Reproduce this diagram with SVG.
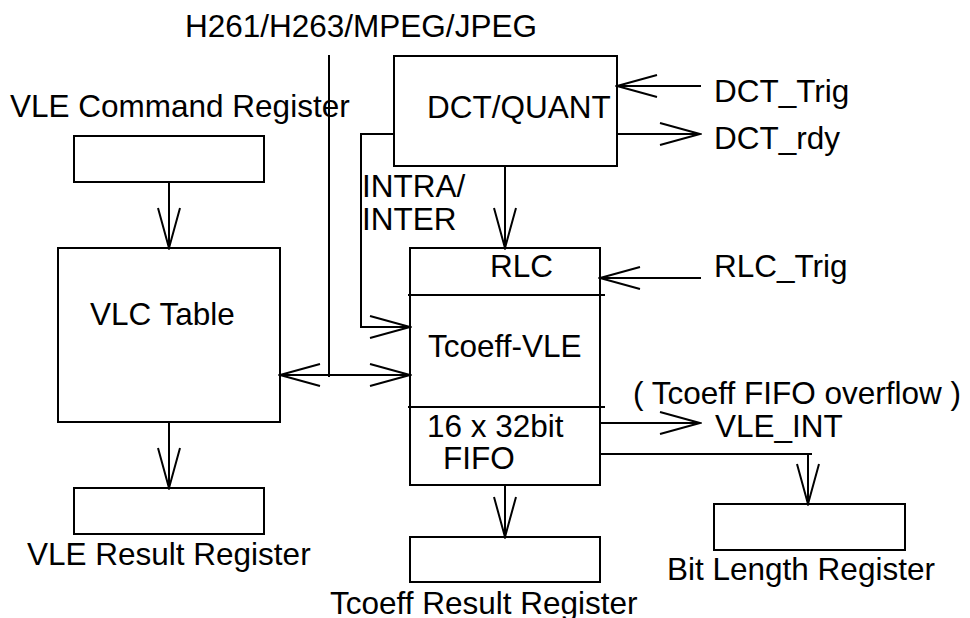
<svg xmlns="http://www.w3.org/2000/svg" width="970" height="618" viewBox="0 0 970 618">
<style>
.box{fill:none;stroke:#000;stroke-width:2}
.ln{fill:none;stroke:#000;stroke-width:2}
.t{font-family:"Liberation Sans",Arial,sans-serif;font-size:31.5px;fill:#000}
</style>
<defs>
<marker id="arr" viewBox="-42 -13 44 26" refX="0" refY="0" markerWidth="44" markerHeight="26" markerUnits="userSpaceOnUse" orient="auto">
<path d="M-40,-11 L0,0 L-40,11" fill="none" stroke="#000" stroke-width="2"/>
</marker>
</defs>
<rect width="970" height="618" fill="#fff"/>
<g id="connectors">
<path class="ln" d="M169,182 V248" marker-end="url(#arr)"/>
<path class="ln" d="M169,422 V488" marker-end="url(#arr)"/>
<path class="ln" d="M505,166 V248" marker-end="url(#arr)"/>
<path class="ln" d="M701,86 H617" marker-end="url(#arr)"/>
<path class="ln" d="M617,134 H700" marker-end="url(#arr)"/>
<path class="ln" d="M701,278 H600" marker-end="url(#arr)"/>
<path class="ln" d="M394,134 H361 V327 H410" marker-end="url(#arr)"/>
<path class="ln" d="M329,55 V377"/>
<path class="ln" d="M329,375 H280" marker-end="url(#arr)"/>
<path class="ln" d="M329,375 H410" marker-end="url(#arr)"/>
<path class="ln" d="M600,423 H700" marker-end="url(#arr)"/>
<path class="ln" d="M600,454 H812"/>
<path class="ln" d="M808,454 V504" marker-end="url(#arr)"/>
<path class="ln" d="M505,485 V537" marker-end="url(#arr)"/>
</g>
<g id="vle-command-register">
<rect class="box" x="74" y="136" width="190" height="46"/>
<text class="t" x="10" y="117">VLE Command Register</text>
</g>
<g id="vlc-table">
<rect class="box" x="58" y="248" width="222" height="174"/>
<text class="t" x="90" y="325">VLC Table</text>
</g>
<g id="vle-result-register">
<rect class="box" x="74" y="488" width="190" height="46"/>
<text class="t" x="27" y="565">VLE Result Register</text>
</g>
<g id="dct-quant">
<rect class="box" x="394" y="56" width="223" height="110"/>
<text class="t" x="427" y="118">DCT/QUANT</text>
</g>
<g id="tcoeff-vle">
<rect class="box" x="410" y="248" width="190" height="237"/>
<path class="ln" d="M408,295 H605 M408,407 H605"/>
<text class="t" x="490" y="277">RLC</text>
<text class="t" x="428" y="357">Tcoeff-VLE</text>
<text class="t" x="427" y="437">16 x 32bit</text>
<text class="t" x="443" y="469">FIFO</text>
</g>
<g id="tcoeff-result-register">
<rect class="box" x="410" y="537" width="190" height="45"/>
<text class="t" x="330" y="614">Tcoeff Result Register</text>
</g>
<g id="bit-length-register">
<rect class="box" x="714" y="504" width="191" height="46"/>
<text class="t" x="667" y="580">Bit Length Register</text>
</g>
<g id="labels">
<text class="t" x="185" y="37">H261/H263/MPEG/JPEG</text>
<text class="t" x="714" y="102">DCT_Trig</text>
<text class="t" x="714" y="149">DCT_rdy</text>
<text class="t" x="714" y="277">RLC_Trig</text>
<text class="t" x="362" y="197">INTRA/</text>
<text class="t" x="362" y="230">INTER</text>
<text class="t" x="633" y="404">( Tcoeff FIFO overflow )</text>
<text class="t" x="715" y="437">VLE_INT</text>
</g>
</svg>
